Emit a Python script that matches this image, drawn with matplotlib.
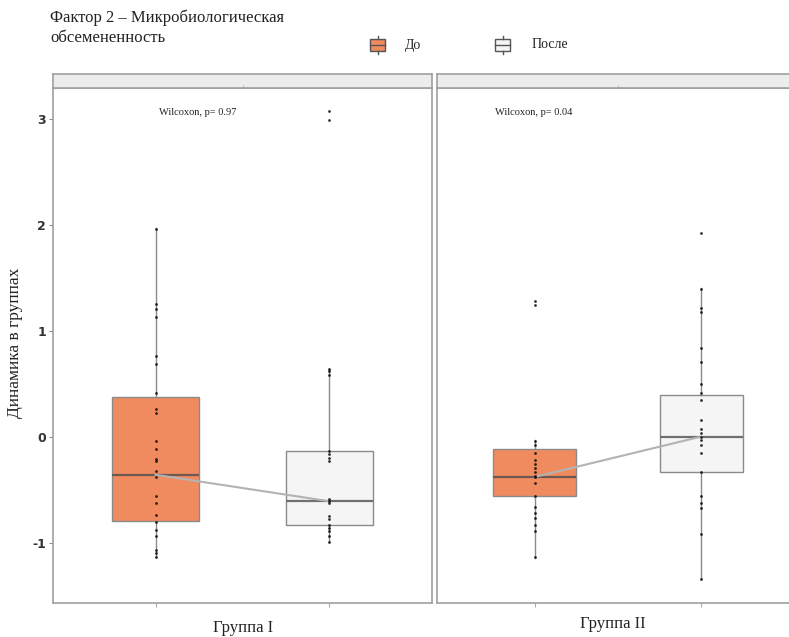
import matplotlib
matplotlib.use("Agg")
import matplotlib.pyplot as plt
from matplotlib.patches import Rectangle
from matplotlib.lines import Line2D

groups = ["Группа I", "Группа II"]
conditions = ["До", "После"]
p_values = ["0.97", "0.04"]

# individual points
g1_before = [1.96, 1.25, 1.20, 1.13, 0.76, 0.69, 0.41, 0.26, 0.22, -0.04, -0.12,
             -0.21, -0.23, -0.32, -0.38, -0.56, -0.63, -0.74, -0.81, -0.88,
             -0.94, -1.07, -1.10, -1.14]
g1_after = [3.07, 2.99, 0.64, 0.62, 0.58, -0.14, -0.16, -0.20, -0.23, -0.59,
            -0.61, -0.63, -0.75, -0.78, -0.83, -0.86, -0.89, -0.94, -0.99]
g2_before = [1.28, 1.24, -0.04, -0.08, -0.15, -0.22, -0.26, -0.30, -0.33,
             -0.37, -0.38, -0.44, -0.56, -0.66, -0.72, -0.77, -0.83, -0.89, -1.14]
g2_after = [1.92, 1.39, 1.21, 1.18, 0.84, 0.70, 0.50, 0.41, 0.35, 0.16, 0.07,
            0.03, 0.00, -0.03, -0.08, -0.15, -0.33, -0.56, -0.63, -0.67, -0.92,
            -1.34]

# box stats: whisker low, q1, median, q3, whisker high
g1_before_box = [-1.14, -0.80, -0.36, 0.37, 1.97]
g1_after_box = [-0.99, -0.83, -0.61, -0.14, 0.64]
g2_before_box = [-1.15, -0.56, -0.38, -0.12, -0.03]
g2_after_box = [-1.34, -0.33, 0.00, 0.39, 1.40]

panels = [
    (g1_before, g1_after, g1_before_box, g1_after_box),
    (g2_before, g2_after, g2_before_box, g2_after_box),
]

fill_colors = ["#F08A5F", "#F5F5F5"]
edge = "#8a8a8a"
serif = "Liberation Serif"

fig = plt.figure(figsize=(7.89, 6.37), dpi=100)

ax_rects = [
    [53 / 789, 34 / 637, 379 / 789, 515 / 637],
    [437 / 789, 34 / 637, 362 / 789, 515 / 637],
]
text_x = [1.02, 0.76]
group_label_xy = [(243, 628), (613, 624)]

for i, (before, after, bbox_b, bbox_a) in enumerate(panels):
    ax = fig.add_axes(ax_rects[i])
    stats = []
    for b in (bbox_b, bbox_a):
        stats.append(dict(whislo=b[0], q1=b[1], med=b[2], q3=b[3], whishi=b[4], fliers=[]))
    bp = ax.bxp(stats, positions=[1, 2], widths=0.5, patch_artist=True,
                showcaps=False, showfliers=False,
                boxprops=dict(edgecolor=edge, linewidth=1.0),
                whiskerprops=dict(color=edge, linewidth=1.0),
                medianprops=dict(color="#6b5a52", linewidth=1.6))
    for patch, c in zip(bp["boxes"], fill_colors):
        patch.set_facecolor(c)
    bp["medians"][1].set_color("#707070")

    # line between medians
    ax.plot([1, 2], [bbox_b[2], bbox_a[2]], color="#b3b3b3", lw=1.5, zorder=4)

    for pos, vals in zip([1, 2], [before, after]):
        ax.scatter([pos] * len(vals), vals, s=4, color="black", alpha=0.8,
                   linewidths=0, zorder=5)

    ax.text(text_x[i], 3.06, "Wilcoxon, p= " + p_values[i], fontsize=7.5,
            family=serif, ha="left", va="center", color="#222222")

    ax.set_xlim(0.41, 2.59)
    ax.set_ylim(-1.57, 3.29)
    ax.set_xticks([1, 2])
    ax.set_xticklabels(["", ""])
    ax.tick_params(axis="x", length=3, color="#aaaaaa")
    if i == 0:
        ax.set_yticks([-1, 0, 1, 2, 3])
        ax.set_yticklabels(["-1", "0", "1", "2", "3"], fontsize=9,
                           fontweight="bold", color="#333333")
        ax.tick_params(axis="y", length=3, color="#888888", pad=2)
    else:
        ax.set_yticks([])
    for sp in ax.spines.values():
        sp.set_color("#a0a0a0")
        sp.set_linewidth(1.2)

    gx, gy = group_label_xy[i]
    fig.text(gx / 789, 1 - gy / 637, groups[i], ha="center", va="center",
             fontsize=12, family=serif, color="#222222")

    # facet strip
    r = ax_rects[i]
    sax = fig.add_axes([r[0], r[1] + r[3], r[2], 14 / 637])
    sax.set_facecolor("#EDEDED")
    sax.set_xticks([0.5])
    sax.set_xticklabels([""])
    sax.set_yticks([])
    sax.tick_params(axis="x", direction="in", length=2, color="#bbbbbb")
    for sp in sax.spines.values():
        sp.set_color("#a0a0a0")
        sp.set_linewidth(1.2)

fig.text(15 / 789, 1 - 343 / 637, "Динамика в группах", rotation=90,
         ha="center", va="center", fontsize=12.5, family=serif, color="#222222")

fig.text(50 / 789, 1 - 28 / 637, "Фактор 2 – Микробиологическая\nобсемененность",
         ha="left", va="center", fontsize=12, family=serif, color="#222222",
         linespacing=1.3)

# legend keys drawn by hand
key_x = [370, 495]
label_x = [405, 532]
for kx, lx, c, lab in zip(key_x, label_x, fill_colors, conditions):
    x0 = kx / 789
    y0 = 1 - 51 / 637
    w = 15 / 789
    h = 12 / 637
    fig.patches.append(Rectangle((x0, y0), w, h, transform=fig.transFigure,
                                 facecolor=c, edgecolor="#555555", lw=1.0))
    fig.lines.append(Line2D([x0, x0 + w], [y0 + h / 2] * 2, transform=fig.transFigure,
                            color="#555555", lw=1.0))
    fig.lines.append(Line2D([x0 + w / 2] * 2, [y0 - 3 / 637, y0], transform=fig.transFigure,
                            color="#555555", lw=1.0))
    fig.lines.append(Line2D([x0 + w / 2] * 2, [y0 + h, y0 + h + 3 / 637],
                            transform=fig.transFigure, color="#555555", lw=1.0))
    fig.text(lx / 789, 1 - 45 / 637, lab, ha="left", va="center", fontsize=10,
             family=serif, color="#222222")

fig.savefig("out.png", dpi=100)
